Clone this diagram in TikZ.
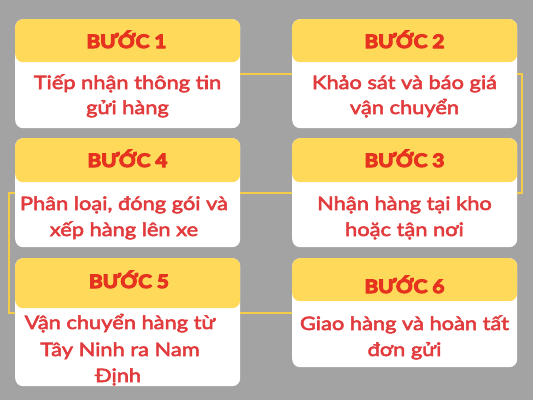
\documentclass[tikz,border=0pt]{standalone}
\usepackage{fontspec}
\setmainfont{Lato}
\newfontfamily\titlefont{Lato}[FakeStretch=1.12,FakeBold=6]
\newfontfamily\bodyfont{Lato}[FakeStretch=1.18,FakeBold=3]
\definecolor{bgc}{HTML}{A3A3A3}
\definecolor{yel}{HTML}{FFD95A}
\definecolor{conc}{HTML}{F5CC45}
\definecolor{titc}{HTML}{E5331F}
\definecolor{bodc}{HTML}{E23B3D}
\tikzset{
  boxw/.style={fill=white,draw=none,rounded corners=8pt,minimum width=225pt,inner sep=0pt,anchor=north west},
  boxh/.style={fill=yel,draw=none,rounded corners=8pt,minimum width=225pt,inner sep=0pt,anchor=north west},
  tit/.style={anchor=base,inner sep=0pt,text=titc,font=\titlefont\bfseries\fontsize{18.5pt}{22pt}\selectfont},
  bod/.style={anchor=base,inner sep=0pt,text=bodc,font=\bodyfont\fontsize{18.5pt}{22pt}\selectfont},
  conn/.style={draw=conc,line width=2pt}
}
\begin{document}
\begin{tikzpicture}[x=1pt,y=-1pt]
\fill[bgc] (0,0) rectangle (533,400);
\useasboundingbox (0,0) rectangle (533,400);
\node[boxw,minimum height=109pt] (b1) at (15,19) {};
\node[boxw,minimum height=109pt] (b2) at (292,19) {};
\node[boxw,minimum height=109pt] (b4) at (15,138) {};
\node[boxw,minimum height=109pt] (b3) at (292,138) {};
\node[boxw,minimum height=128pt] (b5) at (15,258) {};
\node[boxw,minimum height=109pt] (b6) at (292,258) {};
\node[boxh,minimum height=43pt] (h1) at (15,19) {};
\node[boxh,minimum height=43pt] (h2) at (292,19) {};
\node[boxh,minimum height=44pt] (h4) at (15,138) {};
\node[boxh,minimum height=44pt] (h3) at (292,138) {};
\node[boxh,minimum height=50pt] (h5) at (15,258) {};
\node[boxh,minimum height=43pt] (h6) at (292,258) {};
\draw[conn] (b1.east) -- (b2.west);
\draw[conn] (b2.east) -- ++(5,0) |- (b3.east);
\draw[conn] (b3.west) -- (b4.east);
\draw[conn] (b4.west) -- ++(-6,0) |- (b6.west -| b5.west);
\draw[conn] (b6.west -| b5.east) -- (b6.west);
\node[tit] (t1) at (126.5,48) {BƯỚC 1};
\node[bod] (l1a) at (127.5,89) {Tiếp nhận thông tin};
\node[bod] (l1b) at (127.5,114) {gửi hàng};
\node[tit] (t2) at (404.5,48) {BƯỚC 2};
\node[bod] (l2a) at (404.5,89) {Khảo sát và báo giá};
\node[bod] (l2b) at (404.5,114) {vận chuyển};
\node[tit] (t4) at (127.5,167) {BƯỚC 4};
\node[bod] (l4a) at (124,210) {Phân loại, đóng gói và};
\node[bod] (l4b) at (124,236) {xếp hàng lên xe};
\node[tit] (t3) at (404.5,167) {BƯỚC 3};
\node[bod] (l3a) at (404.5,210) {Nhận hàng tại kho};
\node[bod] (l3b) at (404.5,236) {hoặc tận nơi};
\node[tit] (t5) at (129,288) {BƯỚC 5};
\node[bod] (l5a) at (120,329) {Vận chuyển hàng từ};
\node[bod] (l5b) at (120,356) {Tây Ninh ra Nam};
\node[bod] (l5c) at (118,382) {Định};
\node[tit] (t6) at (404.5,293) {BƯỚC 6};
\node[bod] (l6a) at (404.5,330) {Giao hàng và hoàn tất};
\node[bod] (l6b) at (404.5,356) {đơn gửi};
\end{tikzpicture}
\end{document}
